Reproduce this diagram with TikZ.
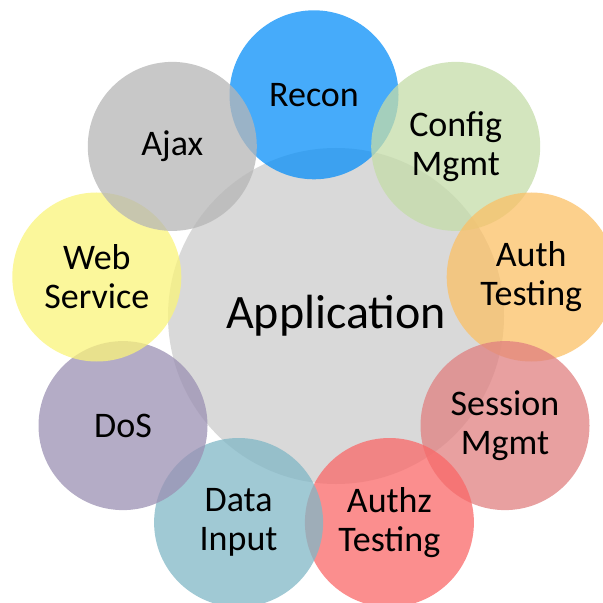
\documentclass[tikz,border=0pt]{standalone}
\usepackage{fontspec}
\setmainfont{Carlito}
\definecolor{appgray}{RGB}{217,217,217}
\definecolor{reconblue}{RGB}{8,143,248}
\definecolor{configgreen}{RGB}{196,220,168}
\definecolor{authorange}{RGB}{251,192,102}
\definecolor{sessionrose}{RGB}{224,128,128}
\definecolor{authzred}{RGB}{250,104,104}
\definecolor{datateal}{RGB}{128,183,198}
\definecolor{dospurple}{RGB}{155,144,179}
\definecolor{webyellow}{RGB}{250,244,122}
\definecolor{ajaxgray}{RGB}{182,182,182}

\begin{document}
\begin{tikzpicture}[x=0.5pt, y=-0.5pt,
    petal/.style={circle, minimum size=84.5pt, inner sep=0pt, fill opacity=0.75,
        text opacity=1, align=center, font=\fontsize{18}{19.5}\selectfont}]
    \useasboundingbox (0,0) rectangle (603,603);
    \clip (0,0) rectangle (603,603);

    % Centre: the application under test
    \node[circle, fill=appgray, minimum size=168pt, inner sep=0pt,
        font=\fontsize{24}{27}\selectfont] (app) at (336,316) {Application};

    % Ring of test areas, clockwise from the top
    \node[petal, fill=reconblue] (recon) at (314,94.8) {Recon};
    \node[petal, fill=configgreen] (config) at (455.7,146.4) {Config\\Mgmt};
    \node[petal, fill=authorange] (auth) at (531.2,277) {Auth\\Testing};
    \node[petal, fill=sessionrose] (session) at (505,425.6) {Session\\Mgmt};
    \node[petal, fill=authzred] (authz) at (389.4,522.5) {Authz\\Testing};
    \node[petal, fill=datateal] (data) at (238.6,522.5) {Data\\Input};
    \node[petal, fill=dospurple] (dos) at (123,425.6) {DoS};
    \node[petal, fill=webyellow] (web) at (96.8,277) {Web\\Service};
    \node[petal, fill=ajaxgray] (ajax) at (172.3,146.4) {Ajax};
\end{tikzpicture}
\end{document}
